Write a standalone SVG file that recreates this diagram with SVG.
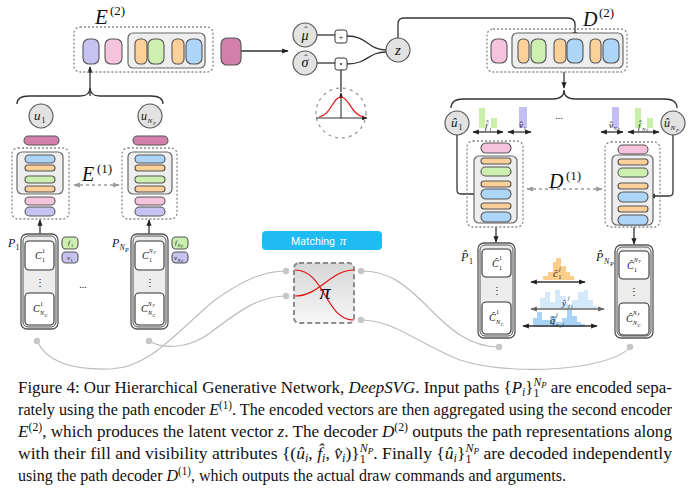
<svg xmlns="http://www.w3.org/2000/svg" width="690" height="494" viewBox="0 0 690 494">
<style>
.m{font-family:"Liberation Serif",serif;font-style:italic;fill:#111}
.r{font-family:"Liberation Serif",serif;fill:#111}
.cap{font-family:"Liberation Serif",serif;font-size:17.5px;fill:#111}
.pl{stroke:#555;stroke-width:1.1}
.lav{fill:#c7c3f1}.pnk{fill:#f6c3dd}.org{fill:#fdd09a}.grn{fill:#cdefb0}.blu{fill:#acd5f8}.dpk{fill:#d27fac}
.dot{fill:none;stroke:#8a8a8a;stroke-width:1.3;stroke-dasharray:2 2}
.ib{fill:#eeeeee;stroke:#666;stroke-width:1.2}
.cc{fill:#e2e2e2;stroke:#555;stroke-width:1.1}
.ln{fill:none;stroke:#333;stroke-width:1.3}
.gl{fill:none;stroke:#bdbdbd;stroke-width:1.2}
.gd{fill:#c6c6c6}
.dash{fill:none;stroke:#999;stroke-width:1.3;stroke-dasharray:3 3}
.pbo{fill:#fff;stroke:#555;stroke-width:1.3}
.pbi{fill:#ececec;stroke:#555;stroke-width:1}
.cb{fill:#fff;stroke:#333;stroke-width:1.1}
.red{fill:none;stroke:#e41010;stroke-width:1.2}
</style>
<defs>
<marker id="ah" viewBox="0 0 10 10" refX="9" refY="5" markerWidth="5" markerHeight="5" orient="auto-start-reverse"><path d="M0,1 L10,5 L0,9 z" fill="#222"/></marker>
<marker id="ahg" viewBox="0 0 10 10" refX="9" refY="5" markerWidth="5" markerHeight="5" orient="auto-start-reverse"><path d="M0,1 L10,5 L0,9 z" fill="#999"/></marker>
<marker id="ahd" viewBox="0 0 10 10" refX="9" refY="5" markerWidth="5" markerHeight="5" orient="auto-start-reverse"><path d="M0,1 L10,5 L0,9 z" fill="#666"/></marker>
<linearGradient id="mg" x1="0" y1="0" x2="0" y2="1"><stop offset="0" stop-color="#d6d6d6"/><stop offset="1" stop-color="#f7f7f7"/></linearGradient>
</defs>

<g id="connectors">
<path class="gl" d="M37,341 C48,365 80,370 111,369 C150,368 178,330 215,300 C240,282 262,271 286,271"/>
<path class="gl" d="M149,341 C165,350 190,348 210,333 C240,310 260,296 286,296"/>
<path class="gl" d="M361,271 C390,271 405,285 425,304 C450,330 470,347 499,347"/>
<path class="gl" d="M361,320 C395,320 420,345 460,360 C490,370 540,372 580,366 C610,361 624,355 630,347"/>
<path class="ln" d="M90,96 L90,67" marker-end="url(#ah)"/>
<path class="ln" d="M40,234 L40,220" marker-end="url(#ah)"/>
<path class="ln" d="M149,234 L149,220" marker-end="url(#ah)"/>
<path class="ln" d="M241,51 L288,51" marker-end="url(#ah)"/>
<path class="ln" d="M317,35 L335,35"/>
<path class="ln" d="M317,63 L335,63"/>
<path class="ln" d="M347,36 C368,36 368,50 386,50"/>
<path class="ln" d="M347,64 C368,64 368,52 386,52"/>
<path class="ln" d="M341,70 L341,92"/>
<path class="ln" d="M398,38 L398,24 Q398,18 404,18 L568,18 Q575,18 575,25 L575,38" marker-end="url(#ah)"/>
<path class="ln" d="M564,72 L564,88" marker-end="url(#ah)"/>
<path class="ln" d="M457,135 L457,190 Q457,194 461,194 L480,194" marker-end="url(#ah)"/>
<path class="ln" d="M673,135 L673,192 Q673,196 669,196 L649,196" marker-end="url(#ah)"/>
<path class="ln" d="M496,227 L496,242" marker-end="url(#ah)"/>
<path class="ln" d="M634,227 L634,244" marker-end="url(#ah)"/>
<path class="dash" d="M74,185 L119,185" marker-start="url(#ahg)" marker-end="url(#ahg)"/>
<path class="dash" d="M527,189 L602,189" marker-start="url(#ahg)" marker-end="url(#ahg)"/>
<path class="ln" d="M17,104 Q17,96 29,96 L80,96 Q90,96 90,88 Q90,96 100,96 L151,96 Q163,96 163,104"/>
<path class="ln" d="M451,108 Q451,99 464,99 L553,99 Q564,99 564,90 Q564,99 575,99 L664,99 Q677,99 677,108"/>
<circle class="gd" cx="37" cy="341" r="3.2"/>
<circle class="gd" cx="149" cy="341" r="3.2"/>
<circle class="gd" cx="286" cy="271" r="3.2"/>
<circle class="gd" cx="286" cy="296" r="3.2"/>
<circle class="gd" cx="361" cy="271" r="3.2"/>
<circle class="gd" cx="361" cy="320" r="3.2"/>
<circle class="gd" cx="499" cy="347" r="3.2"/>
<circle class="gd" cx="630" cy="347" r="3.2"/>
</g>

<g id="E2">
<rect class="dot" x="74" y="27" width="139" height="45" rx="6"/>
<rect class="pl lav" x="83" y="39" width="16" height="25" rx="6"/>
<rect class="pl pnk" x="105" y="39" width="17" height="25" rx="6"/>
<rect class="ib" x="128" y="33" width="77" height="35" rx="5"/>
<rect class="pl org" x="135" y="39" width="12" height="25" rx="5"/>
<rect class="pl grn" x="148" y="39" width="16" height="25" rx="6"/>
<rect class="pl org" x="172" y="39" width="12" height="25" rx="5"/>
<rect class="pl blu" x="186" y="39" width="16" height="25" rx="6"/>
<text class="m" x="95" y="24" font-size="21">E</text><text class="r" x="110" y="15" font-size="13">(2)</text>
</g>
<g id="latent-vec">
<rect class="pl dpk" x="221" y="38" width="20" height="27" rx="6"/>
</g>

<g id="mu">
<circle class="cc" cx="305" cy="35" r="12"/>
<text class="m" x="305" y="40" font-size="14" text-anchor="middle">μ</text><text class="r" x="306" y="34" font-size="10" text-anchor="middle">ˆ</text>
</g>
<g id="sigma">
<circle class="cc" cx="305" cy="63" r="12"/>
<text class="m" x="305" y="67" font-size="14" text-anchor="middle">σ</text><text class="r" x="306" y="62" font-size="10" text-anchor="middle">ˆ</text>
</g>
<g id="plus">
<rect x="335" y="30" width="12" height="13" rx="2.5" fill="#fff" stroke="#333" stroke-width="1"/>
<text class="r" x="341" y="39.5" font-size="8" text-anchor="middle">+</text>
</g>
<g id="times">
<rect x="335" y="58" width="12" height="12" rx="2.5" fill="#fff" stroke="#333" stroke-width="1"/>
<circle cx="341" cy="64" r="0.9" fill="#111"/>
</g>
<g id="z">
<circle class="cc" cx="398" cy="50" r="12"/>
<text class="m" x="398" y="55" font-size="15" text-anchor="middle">z</text>
</g>
<g id="noise">
<circle cx="341" cy="113" r="25" fill="none" stroke="#999" stroke-width="1.3" stroke-dasharray="3 4"/>
<path d="M316,118 L367,118" stroke="#333" stroke-width="1.1" marker-end="url(#ah)"/>
<path d="M341,118 L341,93" stroke="#333" stroke-width="1.1" marker-end="url(#ah)"/>
<path class="red" d="M319,117 C331,115 333,97 341,97 C349,97 351,115 364,117"/>
</g>

<g id="enc1-1">
<circle class="cc" cx="41" cy="116" r="12"/>
<text class="m" x="34" y="120" font-size="13">u</text><text class="r" x="41.5" y="123" font-size="8">1</text>
<rect class="pl dpk" x="24" y="136" width="35" height="9" rx="4.5"/>
<rect class="dot" x="12" y="148" width="57" height="71" rx="6"/>
<rect class="ib" x="17" y="152" width="46" height="42" rx="5"/>
<rect class="pl blu" x="25" y="155" width="30" height="8" rx="4"/>
<rect class="pl org" x="25" y="165" width="30" height="6" rx="3"/>
<rect class="pl grn" x="25" y="176" width="30" height="7" rx="3.5"/>
<rect class="pl org" x="25" y="186" width="30" height="6" rx="3"/>
<rect class="pl pnk" x="25" y="197" width="30" height="8" rx="4"/>
<rect class="pl lav" x="25" y="207" width="30" height="9" rx="4.5"/>
</g>
<g id="enc1-Np">
<circle class="cc" cx="150" cy="116" r="12"/>
<text class="m" x="141" y="120" font-size="12">u</text><text class="m" x="147.5" y="123" font-size="7">N</text><text class="m" x="153" y="124.5" font-size="5">P</text>
<rect class="pl dpk" x="133" y="136" width="35" height="9" rx="4.5"/>
<rect class="dot" x="122" y="148" width="55" height="71" rx="6"/>
<rect class="ib" x="128" y="152" width="44" height="42" rx="5"/>
<rect class="pl blu" x="135" y="155" width="30" height="8" rx="4"/>
<rect class="pl org" x="135" y="165" width="30" height="6" rx="3"/>
<rect class="pl grn" x="135" y="176" width="30" height="7" rx="3.5"/>
<rect class="pl org" x="135" y="186" width="30" height="6" rx="3"/>
<rect class="pl pnk" x="135" y="197" width="30" height="8" rx="4"/>
<rect class="pl lav" x="135" y="207" width="30" height="9" rx="4.5"/>
</g>
<g id="E1-label">
<text class="m" x="82" y="181" font-size="20">E</text><text class="r" x="97" y="173" font-size="13">(1)</text>
</g>

<g id="P1">
<rect class="pbo" x="21" y="234" width="37" height="95" rx="6"/>
<rect class="pbi" x="23" y="236" width="33" height="91" rx="5"/>
<rect class="cb" x="25" y="241" width="29" height="29" rx="4"/>
<rect class="cb" x="25" y="293" width="29" height="32" rx="4"/>
<text class="m" x="35" y="259" font-size="10">C</text><text class="r" x="42" y="253" font-size="6">1</text><text class="r" x="42" y="262" font-size="6">1</text>
<text class="m" x="33" y="312" font-size="10">C</text><text class="r" x="40" y="306" font-size="6">1</text><text class="m" x="40" y="315" font-size="6">N</text><text class="m" x="44.5" y="316.5" font-size="4.5">C</text>
<text class="r" x="39.5" y="286" font-size="10" text-anchor="middle">⋮</text>
<text class="m" x="8" y="247" font-size="12">P</text><text class="r" x="15.5" y="250" font-size="8">1</text>
<rect class="pl grn" x="62" y="237" width="16" height="12" rx="4"/>
<text class="m" x="68" y="245" font-size="7">f</text><text class="r" x="71" y="246.5" font-size="4.5">1</text>
<rect class="pl lav" x="62" y="252" width="16" height="11" rx="4"/>
<text class="m" x="67" y="260" font-size="7">v</text><text class="r" x="70.5" y="261.5" font-size="4.5">1</text>
</g>
<g id="PNp">
<rect class="pbo" x="131" y="234" width="37" height="95" rx="6"/>
<rect class="pbi" x="133" y="236" width="33" height="91" rx="5"/>
<rect class="cb" x="135" y="241" width="29" height="29" rx="4"/>
<rect class="cb" x="135" y="293" width="29" height="32" rx="4"/>
<text class="m" x="142" y="259" font-size="10">C</text><text class="m" x="149" y="253" font-size="5.5">N</text><text class="m" x="153.5" y="254" font-size="4">P</text><text class="r" x="149" y="262" font-size="6">1</text>
<text class="m" x="141" y="312" font-size="10">C</text><text class="m" x="148" y="306" font-size="5.5">N</text><text class="m" x="152.5" y="307" font-size="4">P</text><text class="m" x="148" y="315" font-size="6">N</text><text class="m" x="152.5" y="316.5" font-size="4.5">C</text>
<text class="r" x="149.5" y="286" font-size="10" text-anchor="middle">⋮</text>
<text class="m" x="112" y="247" font-size="12">P</text><text class="m" x="119.5" y="250" font-size="8">N</text><text class="m" x="125" y="252" font-size="6">P</text>
<rect class="pl grn" x="172" y="237" width="16" height="12" rx="4"/>
<text class="m" x="175" y="245" font-size="7">f</text><text class="m" x="177.5" y="246.5" font-size="4.5">N</text><text class="m" x="181" y="247.5" font-size="3.5">P</text>
<rect class="pl lav" x="172" y="252" width="16" height="11" rx="4"/>
<text class="m" x="174" y="260" font-size="7">v</text><text class="m" x="177.5" y="261.5" font-size="4.5">N</text><text class="m" x="181" y="262.5" font-size="3.5">P</text>
<text class="r" x="83" y="288" font-size="10" text-anchor="middle">...</text>
</g>

<g id="matching-label">
<rect x="262" y="231" width="120" height="19" rx="4" fill="#1fbcf4"/>
<text x="313" y="244.5" text-anchor="middle" font-family="Roboto,sans-serif" font-size="10.5" fill="#fff">Matching</text>
<text x="343" y="245" text-anchor="middle" font-family="Liberation Serif,serif" font-style="italic" font-size="13" fill="#fff">π</text>
</g>
<g id="matching">
<rect x="294" y="263" width="60" height="60" rx="5" fill="url(#mg)" stroke="#8a8a8a" stroke-width="2" stroke-dasharray="5 3"/>
<path class="red" d="M295,270 C325,270 325,320 354,320"/>
<path class="red" d="M295,296 C320,296 330,270 354,270"/>
<text class="m" x="325" y="299" font-size="22" text-anchor="middle">π</text>
</g>

<g id="D2">
<rect class="dot" x="487" y="29" width="140" height="43" rx="6"/>
<rect class="pl pnk" x="491" y="39" width="16" height="24" rx="6"/>
<rect class="ib" x="512" y="33" width="111" height="35" rx="5"/>
<rect class="pl org" x="518" y="39" width="11" height="24" rx="5"/>
<rect class="pl grn" x="531" y="39" width="15" height="24" rx="6"/>
<rect class="pl org" x="554" y="39" width="12" height="24" rx="5"/>
<rect class="pl blu" x="567" y="39" width="16" height="24" rx="6"/>
<rect class="pl org" x="590" y="39" width="11" height="24" rx="5"/>
<rect class="pl blu" x="603" y="39" width="16" height="24" rx="6"/>
<text class="m" x="583" y="26" font-size="20">D</text><text class="r" x="599" y="17" font-size="13">(2)</text>
</g>

<g id="attrs">
<rect x="479" y="108" width="6" height="20" fill="#c9f0a9"/>
<rect x="491" y="118" width="6" height="10" fill="#c9f0a9"/>
<text class="m" x="485" y="129" font-size="9">f̂</text><text class="r" x="489" y="131" font-size="5">1</text>
<path class="ln" d="M473,132 L503,132" marker-start="url(#ah)" marker-end="url(#ah)"/>
<rect x="519" y="107" width="8" height="21" fill="#c3bff2"/>
<text class="m" x="519" y="128" font-size="9">v̂</text><text class="r" x="523.5" y="130" font-size="5">1</text>
<path class="ln" d="M508,132 L531,132" marker-start="url(#ah)" marker-end="url(#ah)"/>
<text class="r" x="559" y="119" font-size="10" text-anchor="middle">...</text>
<rect x="612" y="107" width="7" height="21" fill="#c3bff2"/>
<text class="m" x="609" y="128" font-size="9">v̂</text><text class="m" x="613.5" y="130" font-size="5">N</text><text class="m" x="617.5" y="131" font-size="4">P</text>
<path class="ln" d="M601,132 L623,132" marker-start="url(#ah)" marker-end="url(#ah)"/>
<rect x="635" y="108" width="6" height="20" fill="#c9f0a9"/>
<rect x="647" y="118" width="6" height="10" fill="#c9f0a9"/>
<text class="m" x="638" y="129" font-size="9">f̂</text><text class="m" x="642" y="131" font-size="5">N</text><text class="m" x="646" y="132" font-size="4">P</text>
<path class="ln" d="M628,132 L659,132" marker-start="url(#ah)" marker-end="url(#ah)"/>
</g>

<g id="u1hat">
<circle class="cc" cx="457" cy="123" r="12"/>
<text class="m" x="451" y="127" font-size="13">û</text><text class="r" x="458.5" y="130" font-size="8">1</text>
</g>
<g id="uNphat">
<circle class="cc" cx="673" cy="123" r="12"/>
<text class="m" x="664" y="127" font-size="12">û</text><text class="m" x="670.5" y="130" font-size="7">N</text><text class="m" x="676" y="131.5" font-size="5">P</text>
</g>

<g id="dec1-1">
<rect class="dot" x="467" y="141" width="56" height="86" rx="6"/>
<rect class="pl pnk" x="481" y="143" width="30" height="10" rx="5"/>
<rect class="ib" x="474" y="156" width="43" height="67" rx="5"/>
<rect class="pl org" x="481" y="158" width="30" height="6" rx="3"/>
<rect class="pl grn" x="481" y="167" width="30" height="9" rx="4.5"/>
<rect class="pl org" x="481" y="181" width="30" height="6" rx="3"/>
<rect class="pl blu" x="481" y="189" width="30" height="10" rx="5"/>
<rect class="pl org" x="481" y="203" width="30" height="6" rx="3"/>
<rect class="pl blu" x="481" y="212" width="30" height="10" rx="5"/>
</g>
<g id="dec1-Np">
<rect class="dot" x="605" y="142" width="55" height="85" rx="6"/>
<rect class="pl pnk" x="618" y="145" width="30" height="9" rx="4.5"/>
<rect class="ib" x="612" y="155" width="41" height="70" rx="5"/>
<rect class="pl org" x="618" y="159" width="30" height="6" rx="3"/>
<rect class="pl grn" x="618" y="168" width="30" height="9" rx="4.5"/>
<rect class="pl org" x="618" y="183" width="30" height="6" rx="3"/>
<rect class="pl blu" x="618" y="192" width="30" height="10" rx="5"/>
<rect class="pl org" x="618" y="206" width="30" height="6" rx="3"/>
<rect class="pl blu" x="618" y="215" width="30" height="10" rx="5"/>
</g>
<g id="D1-label">
<text class="m" x="549" y="188" font-size="20">D</text><text class="r" x="566" y="180" font-size="13">(1)</text>
</g>

<g id="P1hat">
<rect class="pbo" x="478" y="243" width="37" height="95" rx="6"/>
<rect class="pbi" x="480" y="245" width="33" height="91" rx="5"/>
<rect class="cb" x="482" y="249" width="29" height="28" rx="4"/>
<rect class="cb" x="482" y="302" width="29" height="32" rx="4"/>
<text class="m" x="492" y="267" font-size="10">Ĉ</text><text class="r" x="499" y="260" font-size="6">1</text><text class="r" x="499" y="270" font-size="6">1</text>
<text class="m" x="489" y="321" font-size="10">Ĉ</text><text class="r" x="496" y="314" font-size="6">1</text><text class="m" x="496" y="324" font-size="6">N</text><text class="m" x="500.5" y="325.5" font-size="4.5">C</text>
<text class="r" x="496.5" y="294" font-size="10" text-anchor="middle">⋮</text>
<text class="m" x="461" y="261" font-size="12">P̂</text><text class="r" x="469" y="264" font-size="8">1</text>
</g>
<g id="PNphat">
<rect class="pbo" x="615" y="245" width="38" height="93" rx="6"/>
<rect class="pbi" x="617" y="247" width="34" height="89" rx="5"/>
<rect class="cb" x="619" y="251" width="30" height="28" rx="4"/>
<rect class="cb" x="619" y="303" width="30" height="32" rx="4"/>
<text class="m" x="627" y="269" font-size="10">Ĉ</text><text class="m" x="634" y="262" font-size="5.5">N</text><text class="m" x="638.5" y="263" font-size="4">P</text><text class="r" x="634" y="272" font-size="6">1</text>
<text class="m" x="626" y="322" font-size="10">Ĉ</text><text class="m" x="633" y="315" font-size="5.5">N</text><text class="m" x="637.5" y="316" font-size="4">P</text><text class="m" x="633" y="325" font-size="6">N</text><text class="m" x="637.5" y="326.5" font-size="4.5">C</text>
<text class="r" x="634" y="295" font-size="10" text-anchor="middle">⋮</text>
<text class="m" x="596" y="261" font-size="12">P̂</text><text class="m" x="604" y="264" font-size="8">N</text><text class="m" x="610" y="266" font-size="6">P</text>
</g>

<g id="cmd-outputs">
<path fill="#fdcd8c" d="M543,280 L543,276 L548,276 L548,272 L553,272 L553,262 L556,262 L556,258 L561,258 L561,266 L566,266 L566,272 L570,272 L570,276 L574,276 L574,280 Z"/>
<text class="m" x="553" y="277" font-size="10">ĉ</text><text class="m" x="559" y="271" font-size="6">j</text><text class="r" x="558.5" y="279" font-size="5.5">1</text>
<path class="ln" d="M531,282 L585,282" marker-start="url(#ah)" marker-end="url(#ah)"/>
<path fill="#d3e8fb" d="M540,308 L540,298 L545,298 L545,292 L550,292 L550,302 L555,302 L555,290 L560,290 L560,296 L566,296 L566,304 L572,304 L572,300 L578,300 L578,292 L584,292 L584,290 L588,290 L588,300 L593,300 L593,306 L597,306 L597,308 Z"/>
<text class="m" x="562" y="306" font-size="9">ŷ</text><text class="m" x="568" y="300" font-size="5.5">j</text><text class="r" x="567.5" y="308" font-size="5">2,l</text>
<path d="M531,309 L604,309" stroke="#666" stroke-width="1.3" fill="none" marker-start="url(#ahd)" marker-end="url(#ahd)"/>
<path fill="#a8d2f6" d="M533,327 L533,318 L537,318 L537,312 L542,312 L542,320 L550,320 L550,316 L556,316 L556,322 L562,322 L562,318 L567,318 L567,310 L572,310 L572,316 L577,316 L577,322 L581,322 L581,324 L585,324 L585,327 Z"/>
<text class="m" x="550" y="324" font-size="10">q̂</text><text class="m" x="556" y="317" font-size="6">j</text><text class="m" x="556" y="327" font-size="5.5">x</text><text class="r" x="559" y="328" font-size="4">1</text><text class="r" x="561" y="327" font-size="5.5">,l</text>
<path class="ln" d="M523,326 L597,326" marker-start="url(#ah)" marker-end="url(#ah)"/>
</g>

<g id="caption">
<text class="cap" x="18" y="393" textLength="654" lengthAdjust="spacingAndGlyphs">Figure 4: Our Hierarchical Generative Network, <tspan font-style="italic">DeepSVG</tspan>. Input paths {<tspan font-style="italic">P</tspan><tspan font-size="12" dy="3" font-style="italic">i</tspan><tspan dy="-3">}</tspan><tspan font-size="12" dy="4">1</tspan><tspan font-size="12" dx="-6" dy="-11" font-style="italic">N</tspan><tspan font-size="9" dy="2" font-style="italic">P</tspan><tspan dy="5"> are encoded sepa-</tspan></text>
<text class="cap" x="18" y="415" textLength="654" lengthAdjust="spacingAndGlyphs">rately using the path encoder <tspan font-style="italic">E</tspan><tspan font-size="12" dy="-6">(1)</tspan><tspan dy="6">. The encoded vectors are then aggregated using the second encoder</tspan></text>
<text class="cap" x="18" y="437" textLength="654" lengthAdjust="spacingAndGlyphs"><tspan font-style="italic">E</tspan><tspan font-size="12" dy="-6">(2)</tspan><tspan dy="6">, which produces the latent vector </tspan><tspan font-style="italic">z</tspan>. The decoder <tspan font-style="italic">D</tspan><tspan font-size="12" dy="-6">(2)</tspan><tspan dy="6"> outputs the path representations along</tspan></text>
<text class="cap" x="18" y="459" textLength="654" lengthAdjust="spacingAndGlyphs">with their fill and visibility attributes {(<tspan font-style="italic">û</tspan><tspan font-size="12" dy="3" font-style="italic">i</tspan><tspan dy="-3">, </tspan><tspan font-style="italic">f̂</tspan><tspan font-size="12" dy="3" font-style="italic">i</tspan><tspan dy="-3">, </tspan><tspan font-style="italic">v̂</tspan><tspan font-size="12" dy="3" font-style="italic">i</tspan><tspan dy="-3">)}</tspan><tspan font-size="12" dy="4">1</tspan><tspan font-size="12" dx="-6" dy="-11" font-style="italic">N</tspan><tspan font-size="9" dy="2" font-style="italic">P</tspan><tspan dy="5">. Finally {</tspan><tspan font-style="italic">û</tspan><tspan font-size="12" dy="3" font-style="italic">i</tspan><tspan dy="-3">}</tspan><tspan font-size="12" dy="4">1</tspan><tspan font-size="12" dx="-6" dy="-11" font-style="italic">N</tspan><tspan font-size="9" dy="2" font-style="italic">P</tspan><tspan dy="5"> are decoded independently</tspan></text>
<text class="cap" x="18" y="481" textLength="548" lengthAdjust="spacingAndGlyphs">using the path decoder <tspan font-style="italic">D</tspan><tspan font-size="12" dy="-6">(1)</tspan><tspan dy="6">, which outputs the actual draw commands and arguments.</tspan></text>
</g>
</svg>
